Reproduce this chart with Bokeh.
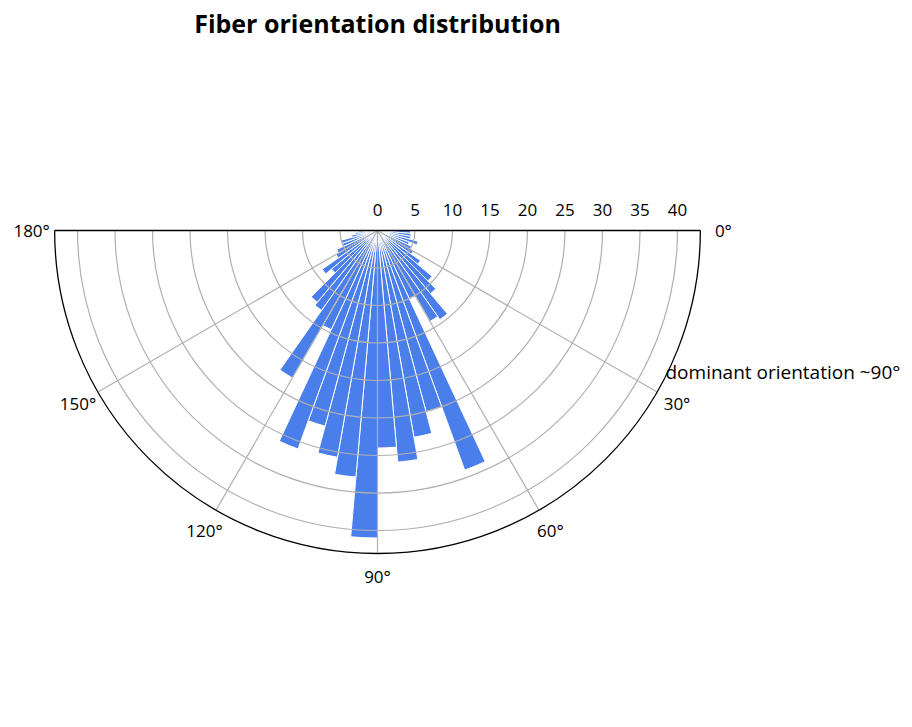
import numpy as np
from bokeh.plotting import figure
from bokeh.models import ColumnDataSource, Range1d
from bokeh.core.properties import value
from bokeh.embed import file_html
from bokeh.resources import INLINE

# ---------------- data ----------------
bin_start_deg = list(range(0, 180, 5))
bin_width_deg = 5
counts = [4.4, 4.5, 4.5, 5.6, 4.5, 5.0, 5.5, 7.0, 9.5, 11.0, 14.5, 14.0,
          10.0, 34.0, 25.0, 28.0, 31.0, 29.0,
          41.0, 33.0, 30.7, 27.0, 31.0, 14.6, 22.7, 13.0, 12.5, 8.0, 9.0, 6.4,
          6.0, 5.0, 5.0, 3.5, 3.0, 2.5]
r_ticks = [0, 5, 10, 15, 20, 25, 30, 35, 40]
theta_ticks = [0, 30, 60, 90, 120, 150, 180]
title_text = "Fiber orientation distribution"
annotation_text = "dominant orientation ~90\u00b0"

# ---------------- layout ----------------
W, H = 900, 715
PX = 7.5                 # pixels per radial unit
CX, CY = 377, 230        # centre of the polar plot in frame pixels
r_max = max(counts) * 1.05

p = figure(width=W, height=H, output_backend="svg", toolbar_location=None,
           x_range=Range1d(-CX / PX, (W - CX) / PX),
           y_range=Range1d(-(H - CY) / PX, CY / PX),
           min_border=0)
p.axis.visible = False
p.grid.visible = False
p.outline_line_color = None
p.background_fill_color = "white"
p.border_fill_color = "white"

FONT = value("Open Sans")

# bars
starts = np.radians(np.array(bin_start_deg, dtype=float))
ends = np.radians(np.array(bin_start_deg, dtype=float) + bin_width_deg)
src = ColumnDataSource(dict(r=counts, sa=-ends, ea=-starts))
p.wedge(x=0, y=0, radius="r", start_angle="sa", end_angle="ea",
        direction="anticlock", source=src,
        fill_color="#4a7feb", line_color="white", line_width=1)

# radial grid circles
grid_r = [r for r in r_ticks if r > 0]
p.arc(x=0, y=0, radius=grid_r, start_angle=-np.pi, end_angle=0,
      direction="anticlock", line_color="#b0b0b0", line_width=1.2)

# angular grid lines
inner_t = np.radians([t for t in theta_ticks if 0 < t < 180])
p.segment(x0=0, y0=0, x1=r_max * np.cos(inner_t), y1=-r_max * np.sin(inner_t),
          line_color="#b0b0b0", line_width=1.2)

# outer frame
p.arc(x=0, y=0, radius=r_max, start_angle=-np.pi, end_angle=0,
      direction="anticlock", line_color="black", line_width=1.3)
p.segment(x0=-r_max, y0=0, x1=r_max, y1=0, line_color="black", line_width=1.3)

# theta tick labels
lab_r = r_max + 23 / PX
tt = np.radians(theta_ticks)
p.text(x=lab_r * np.cos(tt), y=-lab_r * np.sin(tt),
       text=[f"{t}\u00b0" for t in theta_ticks],
       text_align="center", text_baseline="middle",
       text_font=FONT, text_font_size="17px", text_color="black")

# radial tick labels
p.text(x=r_ticks, y=[21 / PX] * len(r_ticks), text=[str(r) for r in r_ticks],
       text_align="center", text_baseline="middle",
       text_font=FONT, text_font_size="17px", text_color="black")

# annotation
p.text(x=[(665 - CX) / PX], y=[-(371 - CY) / PX], text=[annotation_text],
       text_align="left", text_baseline="middle",
       text_font=FONT, text_font_size="19px", text_color="black")

# title
p.text(x=[0], y=[(CY - 22) / PX], text=[title_text],
       text_align="center", text_baseline="middle",
       text_font=FONT, text_font_size="25px", text_font_style="bold",
       text_color="black")

open("out.html", "w").write(file_html(p, INLINE))
